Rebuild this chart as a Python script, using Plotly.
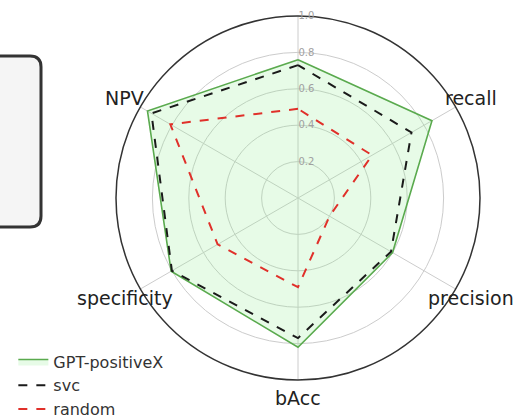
import math
import plotly.graph_objects as go

# Metric axes, counter-clockwise starting from the top
categories = ["F1", "NPV", "specificity", "bAcc", "precision", "recall"]
category_labels = ["", "NPV", "specificity", "bAcc", "precision", "recall"]

gpt_positivex = [0.76, 0.955, 0.805, 0.82, 0.60, 0.85]
svc = [0.73, 0.93, 0.80, 0.77, 0.59, 0.72]
random_clf = [0.49, 0.81, 0.51, 0.49, 0.20, 0.47]

radial_ticks = [0.2, 0.4, 0.6, 0.8, 1.0]
radial_labels = ["0.2", "0.4", "0.6", "0.8", "1.0"]

LABEL_RADIUS = 1.1  # metric names sit just outside the outer ring


def closed(values):
    return values + values[:1]


theta = closed(categories)

fig = go.Figure()
fig.add_trace(go.Scatterpolar(
    r=closed(gpt_positivex), theta=theta, name="GPT-positiveX",
    mode="lines", line=dict(color="#5aaa4e", width=1.6),
    fill="toself", fillcolor="rgba(144,238,144,0.22)",
))
fig.add_trace(go.Scatterpolar(
    r=closed(svc), theta=theta, name="svc",
    mode="lines", line=dict(color="#1a1a1a", width=2, dash="dash"),
))
fig.add_trace(go.Scatterpolar(
    r=closed(random_clf), theta=theta, name="random",
    mode="lines", line=dict(color="#e0302a", width=2, dash="dash"),
))

W, H = 513, 419
cx, cy, R = 298, 198, 182

# Metric names centred on each spoke, just beyond the outer ring
step = 360 / len(categories)
annotations = []
for i, label in enumerate(category_labels):
    if not label:
        continue
    a = math.radians(90 + step * i)
    px = cx + LABEL_RADIUS * R * math.cos(a)
    py = cy - LABEL_RADIUS * R * math.sin(a)
    annotations.append(dict(
        text=label, x=px / W, y=1 - py / H, xref="paper", yref="paper",
        xanchor="center", yanchor="middle", showarrow=False,
        font=dict(size=19, color="#222", family="DejaVu Sans"),
    ))

# Rounded panel partly visible at the left edge
x0, x1 = -20 / W, 41 / W
y0, y1 = 1 - 227 / H, 1 - 56 / H
rx, ry = 11 / W, 11 / H
panel = (
    f"M {x0},{y1} L {x1 - rx},{y1} Q {x1},{y1} {x1},{y1 - ry} "
    f"L {x1},{y0 + ry} Q {x1},{y0} {x1 - rx},{y0} L {x0},{y0} Z"
)

fig.update_layout(
    width=W, height=H,
    margin=dict(l=0, r=0, t=0, b=0, autoexpand=False),
    paper_bgcolor="white",
    font=dict(family="DejaVu Sans", color="#222"),
    annotations=annotations,
    shapes=[dict(type="path", path=panel, xref="paper", yref="paper",
                 line=dict(color="#333", width=3), fillcolor="#f5f5f5")],
    polar=dict(
        domain=dict(x=[(cx - R) / W, (cx + R) / W],
                    y=[(H - cy - R) / H, (H - cy + R) / H]),
        bgcolor="white",
        radialaxis=dict(
            range=[0, 1], tickmode="array", tickvals=radial_ticks,
            ticktext=radial_labels, angle=90, tickangle=90,
            side="clockwise",
            showline=False, ticks="", gridcolor="#cccccc", gridwidth=1,
            tickfont=dict(size=10, color="#a0a0a0"),
        ),
        angularaxis=dict(
            direction="counterclockwise", rotation=90,
            showticklabels=False,
            showline=True, linecolor="#333333", linewidth=1.5,
            gridcolor="#cccccc", gridwidth=1, ticks="",
        ),
    ),
    legend=dict(
        x=0.026, y=-0.018, xanchor="left", yanchor="bottom",
        bgcolor="rgba(0,0,0,0)", font=dict(size=16, color="#333"),
    ),
)

fig.write_html("out.html")
